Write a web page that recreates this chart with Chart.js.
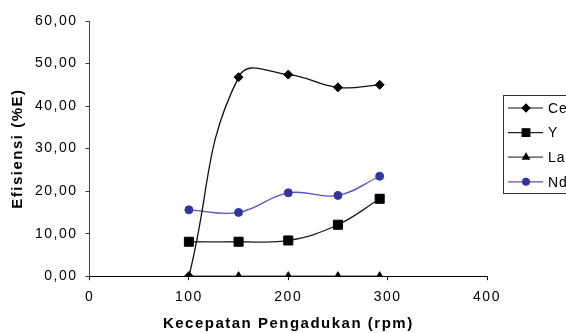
<!DOCTYPE html>
<html>
<head>
<meta charset="utf-8">
<script src="https://cdn.jsdelivr.net/npm/chart.js@4.4.0/dist/chart.umd.min.js"></script>
<style>
    html, body { margin: 0; padding: 0; background: #fff; }
    #wrap { width: 566px; height: 333px; }
</style>
</head>
<body>
<div id="wrap"><canvas id="chart" width="566" height="333"></canvas></div>
<script>
const rpm = [100, 150, 200, 250, 292];
const ceValues = [0, 46.8, 47.4, 44.4, 45.0];
const yValues = [8.1, 8.1, 8.4, 12.1, 18.2];
const laValues = [0, 0, 0, 0, 0];
const ndValues = [15.6, 15.0, 19.6, 19.0, 23.5];
const seriesNames = ['Ce', 'Y', 'La', 'Nd'];
const xTicks = [0, 100, 200, 300, 400];
const yTicks = [0, 10, 20, 30, 40, 50, 60];

Chart.defaults.font.family = "'Liberation Sans', Arial, sans-serif";
Chart.defaults.font.size = 14;
Chart.defaults.color = '#000';

function toPoints(values) {
    return rpm.map((x, i) => ({ x: x, y: values[i] }));
}

// text in the reference is drawn wide, so open it up a little
const wideText = {
    id: 'wideText',
    beforeUpdate(chart) { chart.ctx.letterSpacing = '1.5px'; },
    beforeDraw(chart) { chart.ctx.letterSpacing = '1.5px'; }
};

// legend with a frame, sitting right of the plot
const boxLegend = {
    id: 'boxLegend',
    afterDraw(chart) {
        const ctx = chart.ctx;
        const left = chart.chartArea.right + 16;
        const top = 95;
        ctx.save();
        ctx.strokeStyle = '#333';
        ctx.lineWidth = 1;
        ctx.strokeRect(left + 0.5, top + 0.5, 80, 98);
        chart.data.datasets.forEach((ds, i) => {
            const y = top + 13 + i * 24.6;
            ctx.strokeStyle = ds.borderColor;
            ctx.lineWidth = 1.2;
            ctx.beginPath();
            ctx.moveTo(left + 5, y);
            ctx.lineTo(left + 40, y);
            ctx.stroke();
            ctx.fillStyle = ds.pointBackgroundColor;
            ctx.strokeStyle = ds.pointBorderColor;
            Chart.helpers.drawPoint(ctx, { pointStyle: ds.pointStyle, radius: ds.pointRadius * 0.85, rotation: 0, borderWidth: 1 }, left + 23, y);
            ctx.fillStyle = '#000';
            ctx.font = "14px 'Liberation Sans', Arial, sans-serif";
            ctx.textBaseline = 'middle';
            ctx.textAlign = 'left';
            ctx.letterSpacing = '1px';
            ctx.fillText(ds.label, left + 45, y + 1);
        });
        ctx.restore();
    }
};

function series(label, values, color, markColor, style, radius, tension) {
    return {
        label: label,
        data: toPoints(values),
        showLine: true,
        borderColor: color,
        borderWidth: 1.3,
        tension: tension,
        pointStyle: style,
        pointRadius: radius,
        pointBackgroundColor: markColor,
        pointBorderColor: markColor,
        pointBorderWidth: 1
    };
}

const ctx = document.getElementById('chart').getContext('2d');
const chart = new Chart(ctx, {
    type: 'scatter',
    data: {
        datasets: [
            series(seriesNames[0], ceValues, '#111', '#000', 'rectRot', 4.5, 0.45),
            series(seriesNames[1], yValues, '#222', '#000', 'rect', 6.4, 0.4),
            series(seriesNames[2], laValues, '#444', '#000', 'triangle', 4.5, 0.4),
            series(seriesNames[3], ndValues, '#5656b8', '#34349c', 'circle', 4, 0.4)
        ]
    },
    options: {
        responsive: false,
        animation: false,
        layout: { padding: { left: 5, right: 79, top: 21, bottom: 0 } },
        plugins: {
            legend: { display: false },
            tooltip: { enabled: false }
        },
        scales: {
            x: {
                type: 'linear',
                min: 0,
                max: 400,
                afterBuildTicks: scale => { scale.ticks = xTicks.map(v => ({ value: v })); },
                ticks: { padding: 9, callback: v => String(v) },
                grid: { drawOnChartArea: false, drawTicks: true, tickLength: 4, color: '#000' },
                border: { display: true, color: '#000', width: 1 },
                title: {
                    display: true,
                    text: 'Kecepatan Pengadukan (rpm)',
                    font: { weight: 'bold', size: 15 },
                    padding: { top: 0, bottom: 0 }
                }
            },
            y: {
                min: 0,
                max: 60,
                afterBuildTicks: scale => { scale.ticks = yTicks.map(v => ({ value: v })); },
                ticks: { padding: 8, callback: v => v.toFixed(2).replace('.', ',') },
                grid: { drawOnChartArea: false, drawTicks: true, tickLength: 4, color: '#333' },
                border: { display: true, color: '#444', width: 1 },
                title: {
                    display: true,
                    text: 'Efisiensi (%E)',
                    font: { weight: 'bold', size: 15 },
                    padding: { top: 4, bottom: 0 }
                }
            }
        }
    },
    plugins: [wideText, boxLegend]
});
</script>
</body>
</html>
